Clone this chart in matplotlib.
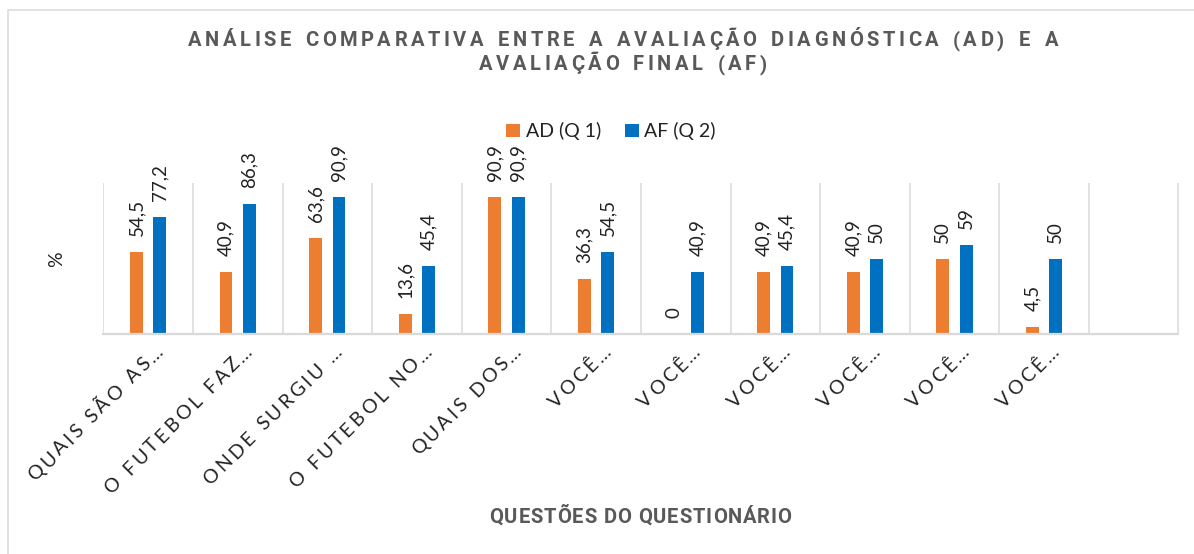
import matplotlib
matplotlib.use('Agg')
import matplotlib.pyplot as plt
import matplotlib.transforms as mtransforms
from matplotlib.font_manager import FontProperties, findfont, get_font
from matplotlib.patches import Rectangle
import numpy as np

# data
categories = ['QUAIS SÃO AS…', 'O FUTEBOL FAZ…', 'ONDE SURGIU …', 'O FUTEBOL NO…',
              'QUAIS DOS…', 'VOCÊ…', 'VOCÊ…', 'VOCÊ…', 'VOCÊ…', 'VOCÊ…', 'VOCÊ…']
ad_q1 = [54.5, 40.9, 63.6, 13.6, 90.9, 36.3, 0, 40.9, 40.9, 50, 4.5]
af_q2 = [77.2, 86.3, 90.9, 45.4, 90.9, 54.5, 40.9, 45.4, 50, 59, 50]
series_names = ['AD (Q 1)', 'AF (Q 2)']
title_lines = ['ANÁLISE COMPARATIVA ENTRE A AVALIAÇÃO DIAGNÓSTICA (AD) E A',
               'AVALIAÇÃO FINAL (AF)']
x_title = 'QUESTÕES DO QUESTIONÁRIO'
y_title = '%'

ORANGE = '#ED7D31'
BLUE = '#0070C0'
GRID = '#D9D9D9'
TITLE_GRAY = '#595959'
TEXT = '#222222'
FONT = 'Lato'
BOLD_FONT = 'Roboto'   # static Roboto-Bold.ttf, so the weight really is bold

W, H, DPI = 1194, 554, 100
PIX = mtransforms.IdentityTransform()


def advances(s, prop, space_scale=1.0):
    """Advance width of every character, in pixels (spaces can be widened)."""
    font = get_font(findfont(prop))
    font.set_size(prop.get_size_in_points(), DPI)
    out = []
    for ch in s:
        w = font.load_char(ord(ch)).linearHoriAdvance / 65536
        out.append(w * space_scale if ch == ' ' else w)
    return out


def tracked(fig, s, x, y, prop, tracking, color, angle=0.0, align='center', space_scale=1.0):
    """Letter-spaced text, placed char by char along a baseline (pixel coords)."""
    adv = advances(s, prop, space_scale)
    total = sum(adv) + tracking * (len(s) - 1)
    pos = -total / 2 if align == 'center' else -total
    c, sn = np.cos(np.radians(angle)), np.sin(np.radians(angle))
    for ch, w in zip(s, adv):
        if ch != ' ':
            fig.text(x + pos * c, y + pos * sn, ch, fontproperties=prop, color=color,
                     rotation=angle, rotation_mode='anchor', ha='left', va='baseline',
                     transform=PIX)
        pos += w + tracking


fig = plt.figure(figsize=(W / DPI, H / DPI), dpi=DPI)
fig.patch.set_facecolor('white')

# outer chart frame (runs off the right and bottom edge of the crop)
fig.patches.append(Rectangle((7.5, -20), W + 40, H - 9.5 + 20, transform=PIX,
                             fill=False, edgecolor=GRID, lw=1.1))

ax = fig.add_axes([103.3 / W, 1 - 334.3 / H, (1178.5 - 103.3) / W, (334.3 - 183) / H])

x = np.arange(len(categories))
bw = 0.142
off = 0.131
b1 = ax.bar(x - off, ad_q1, bw, color=ORANGE, label=series_names[0], zorder=2)
b2 = ax.bar(x + off, af_q2, bw, color=BLUE, label=series_names[1], zorder=2)

ax.set_xlim(-0.5, len(categories) + 0.5)
ax.set_ylim(0, 100)
ax.set_yticks([])
ax.set_xticks(x)
ax.set_xticks(np.arange(-0.5, len(categories) + 1), minor=True)
ax.grid(which='minor', axis='x', color=GRID, lw=1.1)
ax.tick_params(which='both', length=0, labelbottom=False)
ax.set_axisbelow(True)
for side in ['left', 'right', 'top']:
    ax.spines[side].set_visible(False)
ax.spines['bottom'].set_color(GRID)
ax.spines['bottom'].set_linewidth(1.6)

# data labels
for bars, vals in [(b1, ad_q1), (b2, af_q2)]:
    for r, v in zip(bars, vals):
        ax.annotate(f'{v:g}'.replace('.', ','), (r.get_x() + r.get_width() / 2, v),
                    xytext=(0, 16), textcoords='offset pixels', rotation=90,
                    ha='center', va='bottom', family=FONT, size=13.5, color=TEXT)

# title: letter spaced, first line spans about 870 px
title_prop = FontProperties(family=BOLD_FONT, weight='bold', size=14.5)
sp = 1.5
line = title_lines[0]
track = (870 - sum(advances(line, title_prop, sp))) / (len(line) - 1)
tracked(fig, title_lines[0], 623, H - 46, title_prop, track, TITLE_GRAY, space_scale=sp)
tracked(fig, title_lines[1], 623, H - 70, title_prop, track, TITLE_GRAY, space_scale=sp)

# rotated category labels, letter spaced
tick_prop = FontProperties(family=FONT, size=14)
for i, lab in enumerate(categories):
    px, py = ax.transData.transform((i, 0))
    tracked(fig, lab, px + 16, py - 18, tick_prop, 3.0, TEXT, angle=45, align='right')

# legend
leg = fig.legend(handles=[b1, b2], loc='center', bbox_to_anchor=(611 / W, 1 - 131 / H),
                 ncol=2, frameon=False, prop=FontProperties(family=FONT, size=14),
                 handlelength=0.72, handleheight=0.65, handletextpad=0.3,
                 columnspacing=1.2, borderpad=0)
for t in leg.get_texts():
    t.set_color(TEXT)

# axis titles
xt_prop = FontProperties(family=BOLD_FONT, weight='bold', size=14.5)
tracked(fig, x_title, 640.5, 31, xt_prop, 0.9, TITLE_GRAY)
fig.text(56.5 / W, 1 - 259 / H, y_title, ha='center', va='center', rotation=90,
         color=TEXT, family=FONT, size=14)

fig.savefig('out.png', dpi=DPI)
